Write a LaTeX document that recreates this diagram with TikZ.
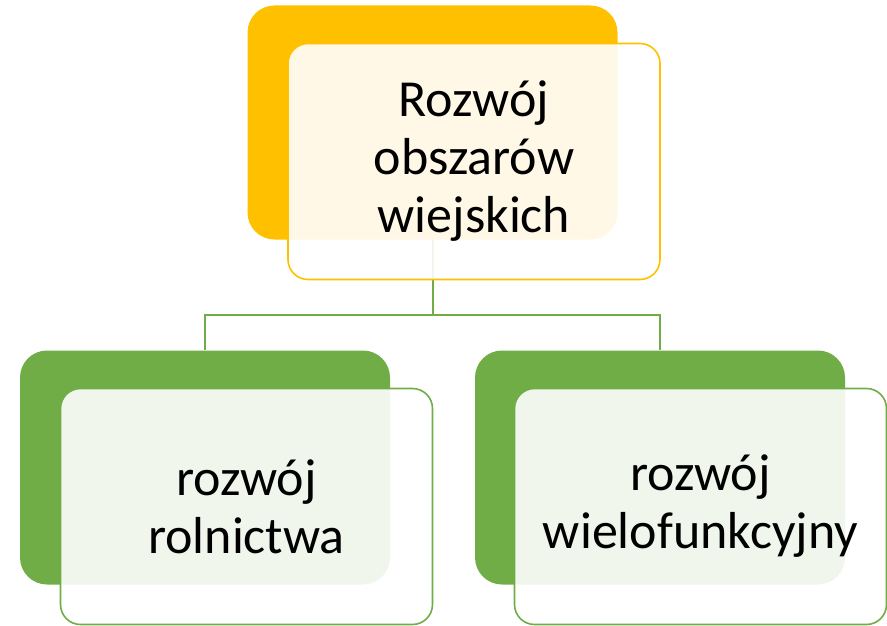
\documentclass[tikz,border=0pt]{standalone}
\usepackage{fontspec}
\setmainfont{Carlito}
\definecolor{gold}{HTML}{FFC000}
\definecolor{leaf}{HTML}{70AD47}

\begin{document}
\begin{tikzpicture}[x=1pt,y=-1pt]
 \useasboundingbox (0,0) rectangle (887,626);
 \begin{scope}[every node/.style={rounded corners=27pt, inner sep=0pt, minimum width=370pt, minimum height=234pt}]
   \node (topback) [fill=gold] at (432.5,122.5) {};
   \node (leftback) [fill=leaf] at (205,467.5) {};
   \node (rightback) [fill=leaf] at (660,467.5) {};
 \end{scope}
 \draw[leaf, line width=2pt] (topback.south) -- ++(0,75) -| (leftback.north);
 \draw[leaf, line width=2pt] (topback.south) ++(0,75) -| (rightback.north);
 \begin{scope}[every node/.style={draw, line width=1.6pt, fill=white, fill opacity=.9, text opacity=1,
     rounded corners=20pt, minimum width=372pt, minimum height=236pt, align=center,
     font=\fontsize{52}{58}\selectfont}]
   \node (topfront) [draw=gold] at (474,161.5) {Rozwój\\obszarów\\wiejskich};
   \node (leftfront) [draw=leaf] at (246.5,506.5) {rozwój\\rolnictwa};
   \node (rightfront) [draw=leaf] at (700.5,506.5) {rozwój\\wielofunkcyjny};
 \end{scope}
\end{tikzpicture}
\end{document}
